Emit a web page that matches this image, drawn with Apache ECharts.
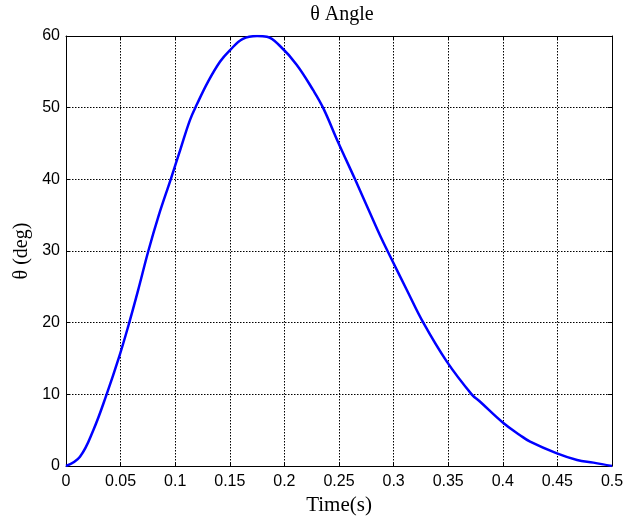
<!DOCTYPE html>
<html><head><meta charset="utf-8">
<script src="https://cdn.jsdelivr.net/npm/echarts@6/dist/echarts.min.js"></script>
<style>html,body{margin:0;padding:0;background:#fff}#c{width:635px;height:517px}</style>
</head><body><div id="c"></div>
<script>
var timeValues = [0, 0.0128, 0.025, 0.0372, 0.0488, 0.057, 0.066, 0.0754, 0.085, 0.0959, 0.105, 0.1136, 0.12, 0.13, 0.141, 0.15, 0.162, 0.175, 0.184, 0.196, 0.2112, 0.2265, 0.2357, 0.2494, 0.2647, 0.2784, 0.2875, 0.2967, 0.312, 0.3272, 0.3486, 0.3715, 0.379, 0.4005, 0.4158, 0.425, 0.449, 0.468, 0.483, 0.5];
var thetaValues = [0, 1.3, 5.0, 10, 15.3, 19.5, 24.5, 30, 35, 40, 44.3, 48.3, 50.5, 53.6, 56.4, 58.0, 59.6, 60, 59.9, 58.6, 56.0, 52.4, 49.9, 45.1, 40, 35.3, 32.2, 29.3, 24.6, 20, 14.6, 10, 9.0, 6.0, 4.3, 3.4, 1.8, 0.84, 0.47, 0];
var xTicks = [0, 0.05, 0.1, 0.15, 0.2, 0.25, 0.3, 0.35, 0.4, 0.45, 0.5];
var yTicks = [0, 10, 20, 30, 40, 50, 60];

var data = timeValues.map(function (t, i) { return [t, thetaValues[i]]; });
var chart = echarts.init(document.getElementById('c'), null, {renderer: 'canvas'});
var serif = 'Liberation Serif, Times New Roman, serif';
var tickFont = {color: '#000', fontFamily: 'Liberation Sans, Arial, sans-serif', fontSize: 16};
var dotted = {show: true, lineStyle: {color: '#000', type: [1.5, 1.5], width: 1}};
chart.setOption({
  animation: false,
  backgroundColor: '#fff',
  title: {text: 'θ Angle', left: 337, top: 0, textAlign: 'center',
    textStyle: {fontFamily: serif, fontWeight: 'normal', fontSize: 20, color: '#000'}},
  grid: {left: 66, right: 23, top: 36, bottom: 51, containLabel: false, outerBoundsMode: 'none'},
  xAxis: [{
    type: 'value', min: 0, max: 0.5, interval: 0.05,
    name: 'Time(s)', nameLocation: 'middle', nameGap: 23,
    nameTextStyle: {fontFamily: serif, fontSize: 21, color: '#000'},
    axisLine: {show: true, lineStyle: {color: '#000', width: 1}},
    axisTick: {show: true, inside: true, length: 4, lineStyle: {color: '#000'}},
    axisLabel: Object.assign({margin: 8, formatter: function (v) { return String(+v.toFixed(2)); }}, tickFont),
    splitLine: dotted
  }, {
    type: 'value', min: 0, max: 0.5, interval: 0.05, position: 'top',
    axisLine: {show: true, onZero: false, lineStyle: {color: '#000', width: 1}},
    axisTick: {show: true, inside: true, length: 4, lineStyle: {color: '#000'}},
    axisLabel: {show: false}, splitLine: {show: false}
  }],
  yAxis: [{
    type: 'value', min: 0, max: 60, interval: 10,
    name: 'θ (deg)', nameLocation: 'middle', nameGap: 32, nameRotate: 90,
    nameTextStyle: {fontFamily: serif, fontSize: 20, color: '#000'},
    axisLine: {show: true, lineStyle: {color: '#000', width: 1}},
    axisTick: {show: true, inside: true, length: 4, lineStyle: {color: '#000'}},
    axisLabel: Object.assign({margin: 6}, tickFont),
    splitLine: dotted
  }, {
    type: 'value', min: 0, max: 60, interval: 10, position: 'right',
    axisLine: {show: true, onZero: false, lineStyle: {color: '#000', width: 1}},
    axisTick: {show: true, inside: true, length: 4, lineStyle: {color: '#000'}},
    axisLabel: {show: false}, splitLine: {show: false}
  }],
  series: [{
    type: 'line', data: data, showSymbol: false, smooth: 0.4,
    lineStyle: {color: '#0000ff', width: 2.5}, itemStyle: {color: '#0000ff'},
    xAxisIndex: 0, yAxisIndex: 0, clip: true
  }]
});
</script></body></html>
